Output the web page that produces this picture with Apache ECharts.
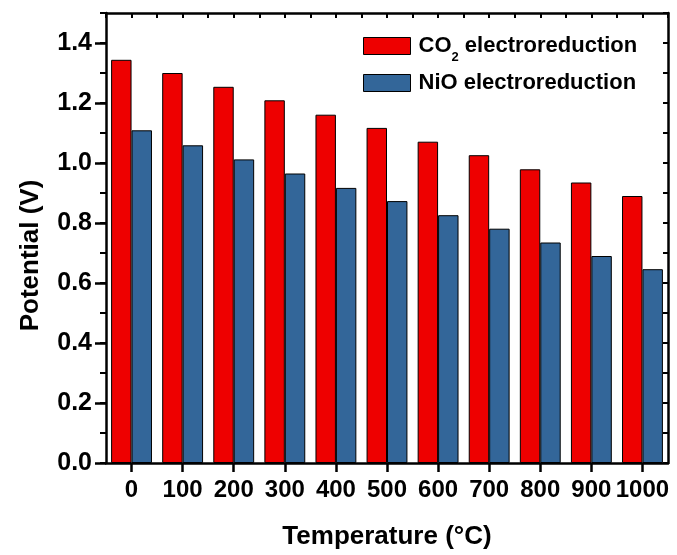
<!DOCTYPE html>
<html>
<head>
<meta charset="utf-8">
<script src="https://cdn.jsdelivr.net/npm/echarts@6/dist/echarts.min.js"></script>
<style>
html,body{margin:0;padding:0;background:#fff;}
#chart{width:677px;height:555px;}
</style>
</head>
<body>
<div id="chart"></div>
<script>
const categories = ['0','100','200','300','400','500','600','700','800','900','1000'];
const co2Values = [1.344, 1.300, 1.254, 1.209, 1.161, 1.117, 1.071, 1.026, 0.979, 0.935, 0.890];
const nioValues = [1.109, 1.059, 1.012, 0.965, 0.917, 0.873, 0.826, 0.781, 0.735, 0.690, 0.646];
const yTicks = [0, 0.2, 0.4, 0.6, 0.8, 1.0, 1.2, 1.4];
const seriesNames = ['CO2 electroreduction', 'NiO electroreduction'];

const FONT = '"Liberation Sans", Arial, sans-serif';
const chart = echarts.init(document.getElementById('chart'));
const axisLine = {show: true, onZero: false, lineStyle: {color: '#000', width: 2.5}};

chart.setOption({
  animation: false,
  backgroundColor: '#fff',
  grid: {left: 106, right: 9, top: 13, bottom: 91, containLabel: false},
  legend: {
    left: 363, top: 28, orient: 'vertical', padding: 0,
    icon: 'rect',
    itemWidth: 47, itemHeight: 17, itemGap: 8,
    data: seriesNames,
    itemStyle: {borderColor: '#000', borderWidth: 1},
    formatter: function (n) {
      if (n.indexOf('CO2') === 0) return '{a|CO}{s|2}{b|' + n.slice(3) + '}';
      return '{a|' + n + '}';
    },
    textStyle: {
      rich: {
        a: {fontFamily: FONT, fontWeight: 'bold', fontSize: 22, color: '#000', lineHeight: 22, padding: [0,0,0,3], verticalAlign: 'middle'},
        b: {fontFamily: FONT, fontWeight: 'bold', fontSize: 22, color: '#000', lineHeight: 22, verticalAlign: 'middle'},
        s: {fontFamily: FONT, fontWeight: 'bold', fontSize: 13, color: '#000', lineHeight: 12, padding: [23,0,0,0], verticalAlign: 'middle'}
      }
    }
  },
  xAxis: [
    {
      type: 'category', data: categories, position: 'bottom',
      axisLine: axisLine,
      axisTick: {show: true, alignWithLabel: true, length: 9, inside: false, lineStyle: {color: '#000', width: 2.5}},
      axisLabel: {fontFamily: FONT, fontWeight: 'bold', fontSize: 24, color: '#000', margin: 15, interval: 0},
      splitLine: {show: false},
      name: 'Temperature (\u00B0C)', nameLocation: 'middle', nameGap: 61,
      nameTextStyle: {fontFamily: FONT, fontWeight: 'bold', fontSize: 26, color: '#000'}
    },
    {
      type: 'value', position: 'top', min: -0.5, max: 10.5, interval: 0.5,
      axisLine: axisLine,
      axisTick: {show: true, inside: true, length: 5, lineStyle: {color: '#000', width: 2}},
      axisLabel: {show: false}, splitLine: {show: false}
    }
  ],
  yAxis: [
    {
      type: 'value', min: 0, max: 1.5, position: 'left',
      axisLine: axisLine,
      axisTick: {show: true, length: 11, customValues: yTicks, lineStyle: {color: '#000', width: 2.5}},
      axisLabel: {customValues: yTicks, fontFamily: FONT, fontWeight: 'bold', fontSize: 25, color: '#000', margin: 14,
        formatter: function (v) { return v.toFixed(1); }},
      splitLine: {show: false},
      name: 'Potential (V)', nameLocation: 'middle', nameGap: 62,
      nameTextStyle: {fontFamily: FONT, fontWeight: 'bold', fontSize: 26, color: '#000', padding: [0, 35, 0, 0]}
    },
    {
      type: 'value', min: 0, max: 1.5, interval: 0.1, position: 'left',
      axisLine: {show: false, onZero: false},
      axisTick: {show: true, length: 6, lineStyle: {color: '#000', width: 2}},
      axisLabel: {show: false}, splitLine: {show: false}
    },
    {
      type: 'value', min: 0, max: 1.5, interval: 0.1, position: 'right',
      axisLine: axisLine,
      axisTick: {show: true, inside: true, length: 5, lineStyle: {color: '#000', width: 2}},
      axisLabel: {show: false}, splitLine: {show: false}
    }
  ],
  series: [
    {
      name: seriesNames[0], type: 'bar', xAxisIndex: 0, yAxisIndex: 0, data: co2Values,
      barGap: '0%', barCategoryGap: '20%',
      itemStyle: {color: '#EE0000', borderColor: '#000', borderWidth: 1}
    },
    {
      name: seriesNames[1], type: 'bar', xAxisIndex: 0, yAxisIndex: 0, data: nioValues,
      barGap: '0%', barCategoryGap: '20%',
      itemStyle: {color: '#336699', borderColor: '#000', borderWidth: 1}
    }
  ]
});
</script>
</body>
</html>
